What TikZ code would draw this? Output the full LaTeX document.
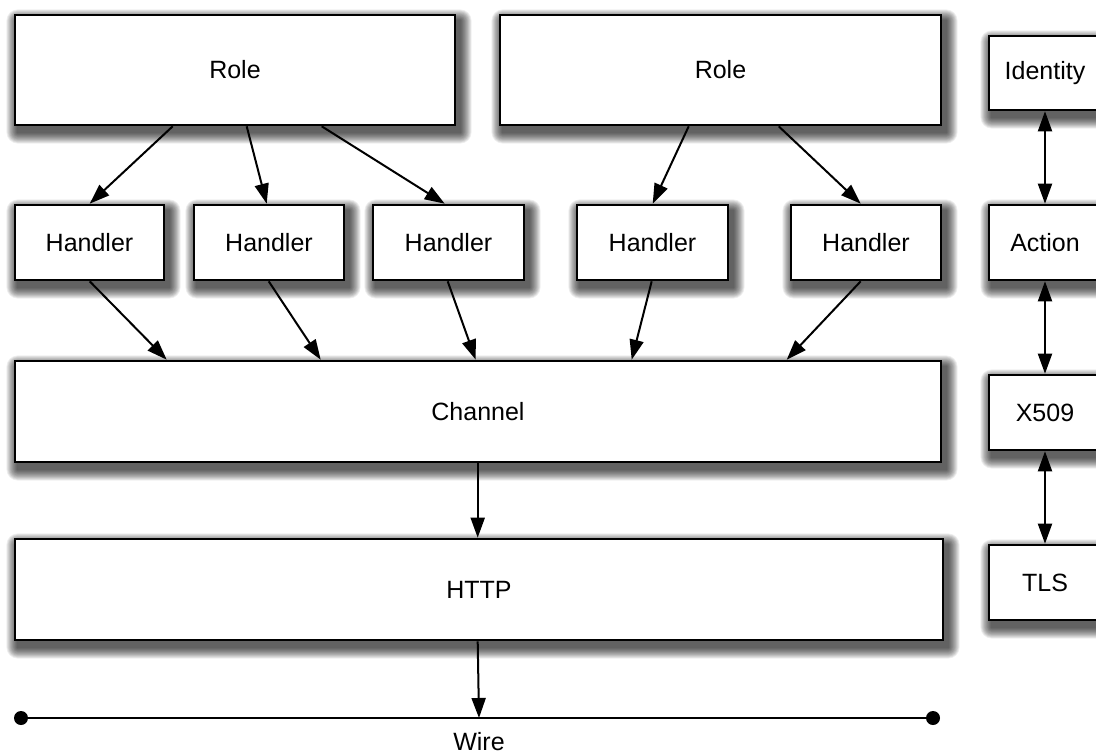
\documentclass[tikz,border=0pt]{standalone}
\usepackage{fontspec}
\setmainfont{Liberation Sans}
\usetikzlibrary{arrows.meta,backgrounds}
\begin{document}
\begin{tikzpicture}[x=1pt,y=-1pt,
  box/.style={draw=black, line width=2.6pt, fill=white, inner sep=0pt,
    font=\fontsize{25}{30}\selectfont},
  shadowlayer/.style={fill=black, fill opacity=0.06},
  arr/.style={line width=2pt, -{Triangle[length=20pt,width=14pt]}},
  darr/.style={line width=2pt, {Triangle[length=20pt,width=14pt]}-{Triangle[length=20pt,width=14pt]}},
  lbl/.style={font=\fontsize{25}{30}\selectfont}
]
\useasboundingbox (0,0) rectangle (1096,755);
\begin{scope}
\clip (0,0) rectangle (1096,755);
% top row
\node[box, minimum width=440, minimum height=110] (role1) at (235,70) {Role};
\node[box, minimum width=441, minimum height=110] (role2) at (720.5,70) {Role};
\node[box, minimum width=112, minimum height=74] (ident) at (1045,73) {Identity};
% handlers
\node[box, minimum width=149, minimum height=75] (h1) at (89.5,242.5) {Handler};
\node[box, minimum width=150, minimum height=75] (h2) at (269,242.5) {Handler};
\node[box, minimum width=151, minimum height=75] (h3) at (448.5,242.5) {Handler};
\node[box, minimum width=151, minimum height=75] (h4) at (652.5,242.5) {Handler};
\node[box, minimum width=150, minimum height=75] (h5) at (866,242.5) {Handler};
\node[box, minimum width=112, minimum height=75] (action) at (1045,242.5) {Action};
% channel
\node[box, minimum width=926, minimum height=101] (chan) at (478,411.5) {Channel};
\node[box, minimum width=112, minimum height=75] (x509) at (1045,412.5) {X509};
% http
\node[box, minimum width=928, minimum height=101] (http) at (479,589.5) {HTTP};
\node[box, minimum width=112, minimum height=75] (tls) at (1045,582.5) {TLS};
\begin{pgfonlayer}{background}
\fill[white] (0,0) rectangle (1096,755);
\foreach \n in {role1,role2,ident,h1,h2,h3,h4,h5,action,chan,x509,http,tls}{
  \foreach \i in {1,2,...,15}{
    \pgfmathsetmacro{\r}{0.75*\i}
    \fill[shadowlayer, rounded corners=\r pt] ([shift={(4-\r,7-\r)}]\n.north west) rectangle ([shift={(4+\r,6+\r)}]\n.south east);
  }
}
\end{pgfonlayer}
\end{scope}
% role -> handlers
\draw[arr] ([xshift=159pt]role1.south west) -- ([xshift=76pt]h1.north west);
\draw[arr] ([xshift=233pt]role1.south west) -- ([xshift=74pt]h2.north west);
\draw[arr] ([xshift=308pt]role1.south west) -- ([xshift=73pt]h3.north west);
\draw[arr] ([xshift=190pt]role2.south west) -- ([xshift=77pt]h4.north west);
\draw[arr] ([xshift=280pt]role2.south west) -- ([xshift=71pt]h5.north west);
% handlers -> channel
\draw[arr] ([xshift=76pt]h1.south west) -- ([xshift=153pt]chan.north west);
\draw[arr] ([xshift=76pt]h2.south west) -- ([xshift=307pt]chan.north west);
\draw[arr] ([xshift=76pt]h3.south west) -- ([xshift=462pt]chan.north west);
\draw[arr] ([xshift=76pt]h4.south west) -- ([xshift=618pt]chan.north west);
\draw[arr] ([xshift=71pt]h5.south west) -- ([xshift=773pt]chan.north west);
% channel -> http
\draw[arr] ([xshift=464pt]chan.south west) -- ([xshift=464pt]http.north west);
% wire
\coordinate (w1) at (21,718);
\coordinate (w2) at (933,718);
\coordinate (wt) at (479,718);
\draw[line width=2pt] (w1) -- (w2);
\fill (w1) circle (7pt);
\fill (w2) circle (7pt);
\node[lbl] (wire) at (479,742) {Wire};
\draw[arr] ([xshift=464pt]http.south west) -- (wt);
% right column
\draw[darr] (ident.south) -- (action.north);
\draw[darr] (action.south) -- (x509.north);
\draw[darr] (x509.south) -- (tls.north);
\end{tikzpicture}
\end{document}
